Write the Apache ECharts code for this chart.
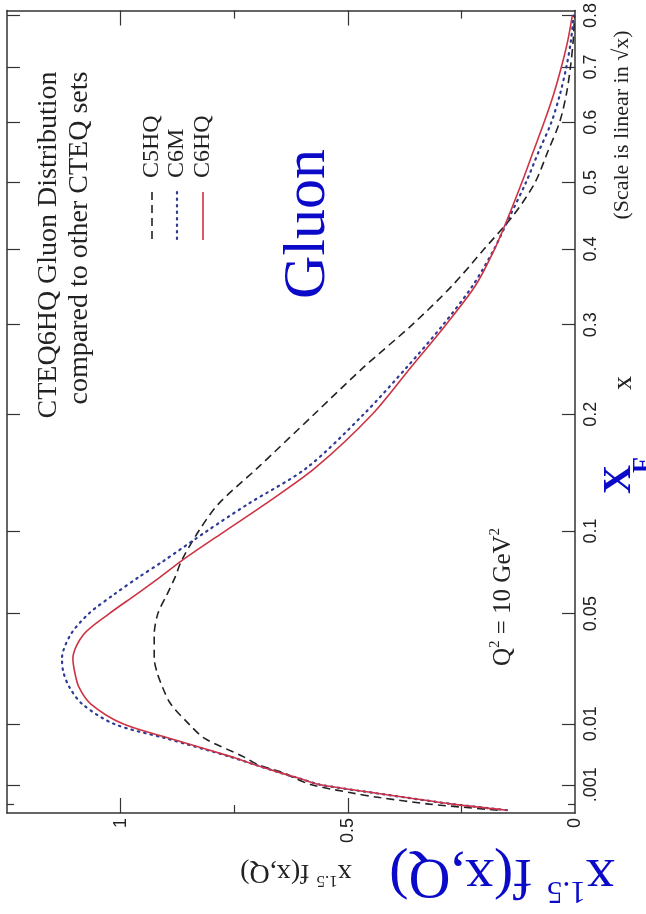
<!DOCTYPE html>
<html><head><meta charset="utf-8">
<script src="https://cdn.jsdelivr.net/npm/echarts@6/dist/echarts.min.js"></script>
<style>html,body{margin:0;padding:0;background:#fff}#c{width:646px;height:914px}</style>
</head><body><div id="c"></div>
<script>
// momentum fraction x (plotted on a sqrt scale, vertical)
const xPoints = [1e-5, 1e-4, 3e-4, 0.0005, 0.001, 0.0015, 0.002, 0.003, 0.004, 0.007, 0.01, 0.015, 0.02, 0.025, 0.03, 0.04, 0.05, 0.06, 0.07, 0.08, 0.1, 0.12, 0.15, 0.2, 0.25, 0.3, 0.35, 0.4, 0.45, 0.5, 0.55, 0.6, 0.65, 0.7, 0.75, 0.8];
// x^1.5 f(x,Q) values (horizontal)
const c5hq = [0.17, 0.32, 0.43, 0.49, 0.58, 0.615, 0.64, 0.70, 0.73, 0.815, 0.85, 0.89, 0.908, 0.92, 0.926, 0.926, 0.918, 0.898, 0.88, 0.866, 0.828, 0.785, 0.698, 0.574, 0.465, 0.358, 0.27, 0.20, 0.135, 0.088, 0.06, 0.034, 0.019, 0.01, 0.004, 0.001];
const c6m  = [0.15, 0.27, 0.372, 0.44, 0.56, 0.606, 0.646, 0.708, 0.76, 0.90, 1.015, 1.085, 1.113, 1.126, 1.129, 1.11, 1.07, 1.015, 0.96, 0.905, 0.81, 0.72, 0.59, 0.465, 0.37, 0.29, 0.225, 0.178, 0.142, 0.108, 0.08, 0.052, 0.033, 0.019, 0.009, 0.003];
const c6hq = [0.15, 0.27, 0.372, 0.44, 0.56, 0.606, 0.646, 0.708, 0.757, 0.891, 0.995, 1.066, 1.092, 1.101, 1.105, 1.082, 1.025, 0.966, 0.913, 0.866, 0.77, 0.682, 0.571, 0.446, 0.361, 0.284, 0.219, 0.177, 0.145, 0.117, 0.092, 0.068, 0.047, 0.03, 0.016, 0.006];

const xTickValues = [0.001, 0.01, 0.05, 0.1, 0.2, 0.3, 0.4, 0.5, 0.6, 0.7, 0.8];
const xTickLabels = ['.001', '0.01', '0.05', '0.1', '0.2', '0.3', '0.4', '0.5', '0.6', '0.7', '0.8'];
const xMinorTickValues = [0.0001];
const fMajorTicks = [0.5, 1];
const fMinorTicks = [0.25, 0.75];
const fLabelValues = [0, 0.5, 1];
const fLabelTexts = ['0', '0.5', '1'];

const sq = v => Math.sqrt(v);
const pairs = arr => arr.map((v, i) => [v, sq(xPoints[i])]);
const sTicks = xTickValues.map(sq);
const sMinor = xMinorTickValues.map(sq);

const SERIF = '"Liberation Serif","DejaVu Serif",serif';
const SANS = '"Liberation Sans","DejaVu Sans",sans-serif';
const BLUE = '#0a0ac8';
const AX = '#333';
const DOT = '#2f3a94';
const RED = '#cc3344';

function nearestLabel(vals, texts, v) {
  let best = 0, d = 1e9;
  vals.forEach((s, i) => { const dd = Math.abs(s - v); if (dd < d) { d = dd; best = i; } });
  return texts[best];
}
const xLab = v => nearestLabel(sTicks, xTickLabels, v);
const fLab = v => nearestLabel(fLabelValues, fLabelTexts, v);

const chart = echarts.init(document.getElementById('c'), null, {renderer: 'canvas'});
const hBase = {type: 'value', min: 0, max: 1.25, inverse: true, splitLine: {show: false}};
const vBase = {type: 'value', min: 0, max: 0.9, splitLine: {show: false}};
const line = show => ({show: show, onZero: false, lineStyle: {color: AX, width: 1.5}});
const tick = (len, vals) => ({show: true, inside: true, length: len, customValues: vals, lineStyle: {color: AX, width: 1.2}});

chart.setOption({
  animation: false,
  backgroundColor: '#fff',
  grid: {left: 7, right: 71, top: 4, bottom: 101, containLabel: false},
  xAxis: [
    Object.assign({}, hBase, {position: 'bottom', axisLine: line(true), axisTick: tick(15, fMajorTicks),
      axisLabel: {show: true, rotate: 90, margin: 5, customValues: fLabelValues, formatter: fLab,
        fontFamily: SANS, fontSize: 18, color: '#222'}}),
    Object.assign({}, hBase, {position: 'bottom', axisLine: line(false), axisTick: tick(8, fMinorTicks), axisLabel: {show: false}}),
    Object.assign({}, hBase, {position: 'top', axisLine: line(true), axisTick: tick(15, fMajorTicks), axisLabel: {show: false}}),
    Object.assign({}, hBase, {position: 'top', axisLine: line(false), axisTick: tick(8, fMinorTicks), axisLabel: {show: false}})
  ],
  yAxis: [
    Object.assign({}, vBase, {position: 'right', axisLine: line(true), axisTick: tick(13, sTicks),
      axisLabel: {show: true, rotate: 90, margin: 7, customValues: sTicks, formatter: xLab,
        fontFamily: SANS, fontSize: 18, color: '#222'}}),
    Object.assign({}, vBase, {position: 'right', axisLine: line(false), axisTick: tick(7, sMinor), axisLabel: {show: false}}),
    Object.assign({}, vBase, {position: 'left', axisLine: line(true), axisTick: tick(13, sTicks), axisLabel: {show: false}}),
    Object.assign({}, vBase, {position: 'left', axisLine: line(false), axisTick: tick(7, sMinor), axisLabel: {show: false}})
  ],
  series: [
    {name: 'C5HQ', type: 'line', data: pairs(c5hq), showSymbol: false, smooth: 0.3,
      lineStyle: {color: '#222', width: 1.6, type: [8, 5]}},
    {name: 'C6M', type: 'line', data: pairs(c6m), showSymbol: false, smooth: 0.3,
      lineStyle: {color: DOT, width: 2.2, type: [1.5, 5], cap: 'round'}},
    {name: 'C6HQ', type: 'line', data: pairs(c6hq), showSymbol: false, smooth: 0.3,
      lineStyle: {color: RED, width: 1.6}}
  ],
  graphic: [
    {type: 'text', x: 49, y: 245, rotation: Math.PI / 2,
      style: {text: 'CTEQ6HQ Gluon Distribution', font: '28px ' + SERIF, fill: '#222', align: 'center', verticalAlign: 'middle'}},
    {type: 'text', x: 80, y: 238, rotation: Math.PI / 2,
      style: {text: 'compared to other CTEQ sets', font: '28px ' + SERIF, fill: '#222', align: 'center', verticalAlign: 'middle'}},
    {type: 'text', x: 152, y: 178, rotation: Math.PI / 2,
      style: {text: 'C5HQ', font: '24px ' + SERIF, fill: '#222', align: 'left', verticalAlign: 'middle'}},
    {type: 'text', x: 177, y: 178, rotation: Math.PI / 2,
      style: {text: 'C6M', font: '24px ' + SERIF, fill: '#222', align: 'left', verticalAlign: 'middle'}},
    {type: 'text', x: 203, y: 178, rotation: Math.PI / 2,
      style: {text: 'C6HQ', font: '24px ' + SERIF, fill: '#222', align: 'left', verticalAlign: 'middle'}},
    {type: 'line', shape: {x1: 152, y1: 192, x2: 152, y2: 240}, style: {stroke: '#222', lineWidth: 1.6, lineDash: [8, 5]}},
    {type: 'line', shape: {x1: 177, y1: 192, x2: 177, y2: 240}, style: {stroke: DOT, lineWidth: 2.2, lineDash: [1.5, 5], lineCap: 'round'}},
    {type: 'line', shape: {x1: 203, y1: 192, x2: 203, y2: 240}, style: {stroke: RED, lineWidth: 1.6}},
    {type: 'text', x: 308, y: 224, rotation: Math.PI / 2,
      style: {text: 'Gluon', font: '60px ' + SERIF, fill: BLUE, align: 'center', verticalAlign: 'middle'}},
    {type: 'text', x: 503, y: 597, rotation: Math.PI / 2,
      style: {text: '{m|Q}{s|2}{m| = 10 GeV}{s|2}', align: 'center', verticalAlign: 'middle',
        rich: {m: {font: '25px ' + SERIF, fill: '#222'}, s: {font: '15px ' + SERIF, fill: '#222', padding: [0, 0, 16, 0]}}}},
    {type: 'text', x: 622, y: 125, rotation: Math.PI / 2,
      style: {text: '(Scale is linear in \u221Ax)', font: '22px ' + SERIF, fill: '#222', align: 'center', verticalAlign: 'middle'}},
    {type: 'text', x: 624, y: 383, rotation: Math.PI / 2,
      style: {text: 'x', font: '28px ' + SERIF, fill: '#222', align: 'center', verticalAlign: 'middle'}},
    {type: 'text', x: 296, y: 872, rotation: Math.PI,
      style: {text: '{m|x}{s|1.5}{m| f(x,Q)}', align: 'center', verticalAlign: 'middle',
        rich: {m: {font: '28px ' + SERIF, fill: '#222'}, s: {font: '17px ' + SERIF, fill: '#222', padding: [0, 0, 16, 0]}}}},
    {type: 'text', x: 502, y: 875, rotation: Math.PI,
      style: {text: '{m|x}{s|1.5}{m| f(x,Q)}', align: 'center', verticalAlign: 'middle',
        rich: {m: {font: '58px ' + SERIF, fill: BLUE}, s: {font: '31px ' + SERIF, fill: BLUE, padding: [0, 0, 30, 0]}}}},
    {type: 'text', x: 620, y: 494, rotation: Math.PI / 2,
      style: {text: 'X', font: 'bold 40px ' + SERIF, fill: BLUE, align: 'left', verticalAlign: 'middle'}},
    {type: 'text', x: 643, y: 465, rotation: Math.PI / 2,
      style: {text: 'F', font: 'bold 26px ' + SERIF, fill: BLUE, align: 'center', verticalAlign: 'middle'}}
  ]
});
</script></body></html>
